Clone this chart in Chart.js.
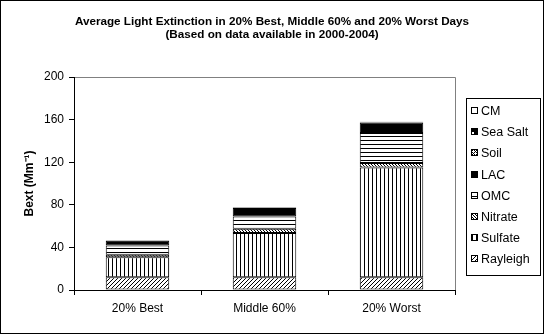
<!DOCTYPE html>
<html><head><meta charset="utf-8">
<script src="https://cdn.jsdelivr.net/npm/chart.js@4/dist/chart.umd.min.js"></script>
<style>html,body{margin:0;padding:0;background:#fff}</style>
</head><body><canvas id="c" width="545" height="335" style="display:block;width:545px;height:335px"></canvas>
<script>
const categories = ['20% Best', 'Middle 60%', '20% Worst'];
const rayleigh = [12, 12, 12];
const sulfate  = [18.7, 41.6, 103];
const nitrate  = [2.5, 3.8, 4.3];
const omc      = [8.5, 11.6, 28.2];
const lac      = [4.5, 8, 9.7];
const soil     = [0.3, 0.4, 0.3];
const seaSalt  = [0.1, 0.1, 0.1];
const cm       = [0.3, 0.3, 0.4];
const yTicks   = [0, 40, 80, 120, 160, 200];
const titleLines = ['Average Light Extinction in 20% Best, Middle 60% and 20% Worst Days', '(Based on data available in 2000-2004)'];

const canvas = document.getElementById('c');
const mainCtx = canvas.getContext('2d');
function tile(w, h, draw) {
  const c = document.createElement('canvas'); c.width = w; c.height = h;
  const g = c.getContext('2d');
  g.fillStyle = '#fff'; g.fillRect(0, 0, w, h);
  g.fillStyle = '#000'; draw(g);
  return mainCtx.createPattern(c, 'repeat');
}
const px = (g, pts) => pts.forEach(p => g.fillRect(p[0], p[1], 1, 1));
const patRayleigh = tile(4, 4, g => px(g, [[3,0],[2,1],[1,2],[0,3]]));
const patSulfate  = tile(4, 1, g => g.fillRect(0, 0, 1, 1));
const patNitrate  = tile(3, 3, g => px(g, [[0,0],[1,1],[2,2]]));
const patOMC      = tile(1, 4, g => g.fillRect(0, 0, 1, 1));
const patSoil     = tile(4, 4, g => { px(g, [[0,0],[2,0],[0,2],[2,2],[1,1],[3,3]]); });
const patSeaSalt  = tile(6, 6, g => { g.fillRect(0,0,6,6); g.fillStyle='#fff'; g.fillRect(3,0,3,3); });

const series = [
  { label: 'Rayleigh', data: rayleigh, bg: patRayleigh },
  { label: 'Sulfate',  data: sulfate,  bg: patSulfate },
  { label: 'Nitrate',  data: nitrate,  bg: patNitrate },
  { label: 'OMC',      data: omc,      bg: patOMC },
  { label: 'LAC',      data: lac,      bg: '#000' },
  { label: 'Soil',     data: soil,     bg: patSoil },
  { label: 'Sea Salt', data: seaSalt,  bg: patSeaSalt },
  { label: 'CM',       data: cm,       bg: '#fff' }
];

const decor = {
  id: 'decor',
  beforeDraw(chart) {
    const ctx = chart.ctx;
    ctx.save();
    ctx.fillStyle = '#fff'; ctx.fillRect(0, 0, chart.width, chart.height);
    ctx.strokeStyle = '#000'; ctx.lineWidth = 1;
    ctx.strokeRect(0.5, 0.5, 543, 333);
    ctx.fillStyle = '#000';
    ctx.font = 'bold 11.7px "Liberation Sans", Arial, sans-serif';
    ctx.textAlign = 'center'; ctx.textBaseline = 'middle';
    ctx.fillText(titleLines[0], 272, 22);
    ctx.fillText(titleLines[1], 272, 35);
    const a = chart.chartArea;
    ctx.strokeStyle = '#808080';
    ctx.beginPath();
    ctx.moveTo(a.left, Math.round(a.top) + 0.5);
    ctx.lineTo(Math.round(a.right) + 0.5, Math.round(a.top) + 0.5);
    ctx.lineTo(Math.round(a.right) + 0.5, a.bottom);
    ctx.stroke();
    ctx.restore();
  },
  afterDraw(chart) {
    const ctx = chart.ctx;
    ctx.save();
    ctx.strokeStyle = '#000'; ctx.lineWidth = 1;
    ctx.strokeRect(466.5, 98.5, 74, 177);
    ctx.font = '12.5px "Liberation Sans", Arial, sans-serif';
    ctx.textAlign = 'left'; ctx.textBaseline = 'middle';
    const ds = chart.data.datasets.slice().reverse();
    ds.forEach((d, i) => {
      const y = 111 + i * 21.2;
      ctx.fillStyle = d.backgroundColor;
      ctx.fillRect(471, Math.round(y) - 4, 7, 7);
      ctx.strokeStyle = '#000';
      ctx.strokeRect(471.5, Math.round(y) - 3.5, 6, 6);
      ctx.fillStyle = '#000';
      ctx.fillText(d.label, 481, y + 0.5);
    });
    ctx.restore();
  }
};

new Chart(canvas, {
  type: 'bar',
  data: {
    labels: categories,
    datasets: series.map(s => ({
      label: s.label, data: s.data, backgroundColor: s.bg,
      borderColor: '#000', borderWidth: 1, borderSkipped: false,
      barPercentage: 0.5, categoryPercentage: 1.0
    }))
  },
  options: {
    responsive: false, animation: false, devicePixelRatio: 1,
    layout: { padding: { top: 77, right: 90, left: 0, bottom: 0 } },
    plugins: { legend: { display: false }, title: { display: false }, tooltip: { enabled: false } },
    scales: {
      x: {
        stacked: true,
        offset: true,
        grid: { offset: true, drawOnChartArea: false, drawTicks: true, tickLength: 5, color: '#000' },
        border: { color: '#000' },
        ticks: { color: '#000', font: { family: '"Liberation Sans", Arial, sans-serif', size: 12 }, padding: 6, maxRotation: 0 },
        afterFit(s) { s.height = 45; }
      },
      y: {
        stacked: true, min: 0, max: 200,
        afterBuildTicks(s) { s.ticks = yTicks.map(v => ({ value: v })); },
        grid: { drawOnChartArea: false, drawTicks: true, tickLength: 5, color: '#000' },
        border: { color: '#000' },
        ticks: { color: '#000', font: { family: '"Liberation Sans", Arial, sans-serif', size: 12 }, padding: 5 },
        title: { display: true, text: 'Bext (Mm\u207B\u00B9)', color: '#000', font: { family: '"Liberation Sans", Arial, sans-serif', size: 12, weight: 'bold' }, padding: { top: 22, bottom: 0 } },
        afterFit(s) { s.width = 74; }
      }
    }
  },
  plugins: [decor]
});
</script>
</body></html>
